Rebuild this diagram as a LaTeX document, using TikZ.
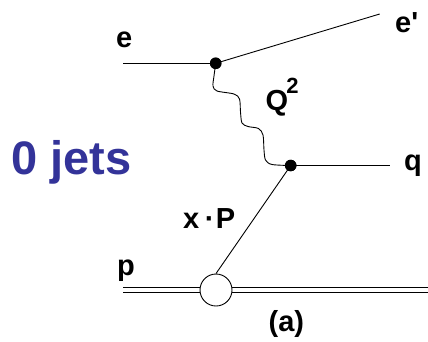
\documentclass[tikz,border=0pt]{standalone}
\usepackage{fontspec}
\setmainfont{Liberation Sans}
\definecolor{jetblue}{RGB}{51,51,153}
\begin{document}
\begin{tikzpicture}[x=1pt,y=-1pt,
  lbl/.style={font=\fontsize{29}{29}\bfseries\selectfont, inner sep=0pt, anchor=base west},
  vtx/.style={circle, fill=black, inner sep=0pt, minimum size=11.5pt},
  ln/.style={line width=0.9pt, black}]
\useasboundingbox (0,0) rectangle (428,341);
% coordinates of free ends
\coordinate (ein) at (123,63.3);
\coordinate (eout) at (379.7,14);
\coordinate (qout) at (390,165.5);
\coordinate (pin) at (123,290);
\coordinate (pout) at (428,290);
% proton double line
\draw[ln, double=white, double distance=4.5pt] (pin) -- (pout);
% vertices and blob
\node[vtx] (v1) at (215.7,63.3) {};
\node[vtx] (v2) at (290.7,165.5) {};
\node[circle, draw, ln, fill=white, minimum size=32pt, inner sep=0pt] (blob) at (216,290) {};
% lines
\draw[ln] (ein) -- (v1.center);
\draw[ln] (v1.center) -- (eout);
\draw[ln] (v2.center) -- (qout);
\draw[ln] (blob.north) -- (v2.center);
% photon
\draw[ln] plot[smooth, tension=0.5] coordinates {(v1.center) (214,76) (213,86) (217,91) (234,94) (239.5,99) (240.5,112) (242,123) (248,126.5) (258.5,128.5) (263,135) (264,150) (265.5,160) (272,164.5) (v2.center)};
% dots on top
\fill (v1) circle (5.75pt);
\fill (v2) circle (5.75pt);
% labels
\node[lbl] (le) at (116,47) {e};
\node[lbl] (leo) at (395,32.3) {e\textquotesingle};
\node[lbl] (lq2) at (265.5,110.5) {Q\kern-2pt\raisebox{17.5pt}{\fontsize{22}{22}\bfseries\selectfont 2}};
\node[lbl] (lq) at (404,170) {q};
\node[lbl] (lp) at (117,275) {p};
\node[lbl] (lxp) at (183,228.5) {x\kern5.5pt·\kern1.5pt P};
\node[lbl] (la) at (268.5,331) {(a)};
\node[font=\fontsize{47}{47}\bfseries\selectfont, text=jetblue, inner sep=0pt, anchor=base west] (jets) at (11,174.5) {0 jets};
\end{tikzpicture}
\end{document}
